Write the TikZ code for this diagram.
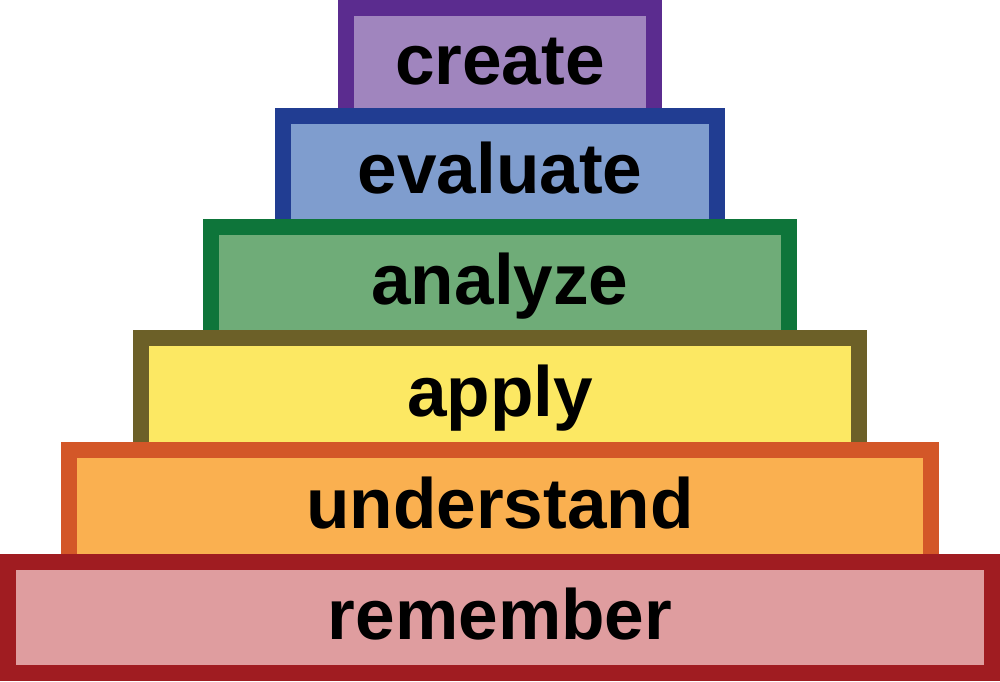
\documentclass[tikz,border=0pt]{standalone}
\usepackage{fontspec}
\setmainfont{Liberation Sans}
\usepackage{xcolor}
\usepackage{tikz}
\usetikzlibrary{positioning}

\definecolor{createline}{RGB}{91,44,143}
\definecolor{createfill}{RGB}{160,133,190}
\definecolor{evalline}{RGB}{33,61,146}
\definecolor{evalfill}{RGB}{127,157,206}
\definecolor{analyzeline}{RGB}{14,117,58}
\definecolor{analyzefill}{RGB}{111,172,120}
\definecolor{applyline}{RGB}{108,96,40}
\definecolor{applyfill}{RGB}{252,232,99}
\definecolor{underline}{RGB}{211,87,40}
\definecolor{underfill}{RGB}{250,176,80}
\definecolor{rememline}{RGB}{160,28,33}
\definecolor{rememfill}{RGB}{223,157,159}

\tikzset{
  level/.style={rectangle, line width=0.32cm, minimum height=2.22cm,
    inner sep=0pt, text height=1.2cm, text depth=0.32cm,
    font=\fontsize{40.5}{48}\selectfont\bfseries, text=black}
}

\begin{document}
\begin{tikzpicture}
\useasboundingbox (0,0) rectangle (20,-13.62);
% levels, top to bottom (each one hides the bottom edge of the one above)
\node[level,draw=createline,fill=createfill,minimum width=6.16cm,minimum height=2.16cm] (create) at (10,-1.24) {create};
\node[level,draw=evalline,fill=evalfill,minimum width=8.68cm] (evaluate) at (10,-3.43) {evaluate};
\node[level,draw=analyzeline,fill=analyzefill,minimum width=11.56cm] (analyze) at (10,-5.65) {analyze};
\node[level,draw=applyline,fill=applyfill,minimum width=14.36cm,minimum height=2.24cm] (apply) at (10,-7.88) {apply};
\node[level,draw=underline,fill=underfill,minimum width=17.24cm,minimum height=2.24cm] (understand) at (10,-10.12) {understand};
\node[level,draw=rememline,fill=rememfill,minimum width=19.68cm] (remember) at (10,-12.35) {remember};
\end{tikzpicture}
\end{document}
